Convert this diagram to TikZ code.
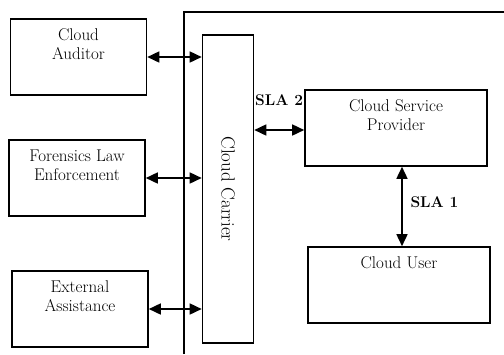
\documentclass[tikz,border=0pt]{standalone}
\usetikzlibrary{arrows.meta,positioning}

\tikzset{
  box/.style={draw, line width=1.6pt, minimum width=136pt, minimum height=76pt, inner sep=0pt},
  lbl/.style={anchor=north, align=center, yshift=-7pt, font=\fontsize{17}{19}\selectfont},
  link/.style={line width=1.6pt, {Triangle[length=12pt,width=11pt]}-{Triangle[length=12pt,width=11pt]}},
  sla/.style={font=\fontsize{15.5}{19}\selectfont\bfseries}
}

\begin{document}
\begin{tikzpicture}[x=1pt,y=-1pt]
      \useasboundingbox (0,0) rectangle (504,354);
      % outer frame, open to the right and bottom
      \draw[line width=1.6pt] (184,354) -- (184,12) -- (504,12);
      % carrier
      \node[draw, line width=1.6pt, minimum width=51pt, minimum height=308pt, inner sep=0pt] (carrier) at (228,189) {};
      \node[rotate=-90, font=\fontsize{19}{21}\selectfont] (carriertxt) at (carrier.center) {Cloud Carrier};
      % parties on the left
      \node[box, label={[lbl]north:Cloud\\Auditor}] (auditor) at (78.5,57) {};
      \node[box, label={[lbl]north:Forensics Law\\Enforcement}] (forensics) at (77,178) {};
      \node[box, label={[lbl]north:External\\Assistance}] (external) at (80,309) {};
      % provider side
      \node[box, minimum width=182pt, label={[lbl]north:Cloud Service\\Provider}] (provider) at (396,128) {};
      \node[box, minimum width=182pt, label={[lbl]north:Cloud User}] (user) at (399,285) {};
      % links
      \draw[link] (auditor.east) -- (auditor.east -| carrier.west);
      \draw[link] (forensics.east) -- (forensics.east -| carrier.west);
      \draw[link] (external.east) -- (external.east -| carrier.west);
      \draw[link] (carrier.east |- 0,130) -- (provider.west |- 0,130);
      \draw[link] (402,0 |- provider.south) -- (402,0 |- user.north);
      \node[sla, anchor=south west, inner sep=1pt] (sla2) at (254,107) {SLA 2};
      \node[sla, anchor=west] (sla1) at (407,202) {SLA 1};
\end{tikzpicture}
\end{document}
